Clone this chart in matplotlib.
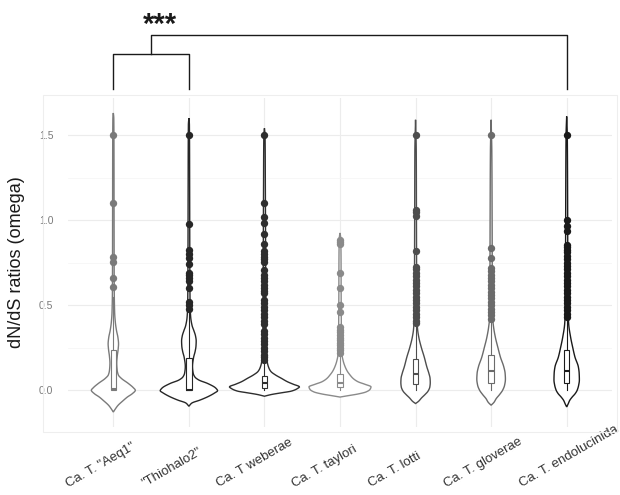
import numpy as np
import matplotlib
matplotlib.use("Agg")
import matplotlib.pyplot as plt
from matplotlib.patches import Rectangle
from matplotlib.transforms import offset_copy

plt.rcParams['font.family'] = ['Liberation Sans', 'DejaVu Sans']

# ---------------- data ----------------
categories = ['Ca. T. "Aeq1"', '"Thiohalo2"', 'Ca. T weberae', 'Ca. T. taylori',
              'Ca. T. lotti', 'Ca. T. gloverae', 'Ca. T. endolucinida']
colors = ['#7a7a7a', '#262626', '#2e2e2e', '#8a8a8a', '#4d4d4d', '#6b6b6b', '#1a1a1a']

# violin density profiles: omega values and relative half-widths (density)
aeq1_y = [-0.128, -0.11, -0.09, -0.06, -0.04, -0.02, 0.0, 0.015, 0.04, 0.07, 0.09, 0.12, 0.16, 0.2, 0.24, 0.273, 0.31, 0.35, 0.4, 0.46, 0.6, 1.0, 1.4, 1.6, 1.63]
aeq1_w = [0.0, 2.0, 4.5, 10.0, 14.0, 19.0, 22.0, 20.0, 15.0, 8.0, 5.0, 3.8, 3.4, 3.9, 4.8, 5.2, 4.6, 3.2, 2.0, 1.3, 0.9, 0.75, 0.65, 0.45, 0.0]
thio_y = [-0.094, -0.075, -0.058, -0.035, -0.015, -0.003, 0.012, 0.04, 0.06, 0.078, 0.1, 0.14, 0.19, 0.23, 0.26, 0.29, 0.32, 0.35, 0.38, 0.43, 0.5, 0.8, 1.2, 1.56, 1.60]
thio_w = [0.0, 3.0, 11.0, 20.0, 26.0, 28.7, 27.0, 18.7, 10.0, 6.0, 4.3, 3.6, 4.6, 6.3, 7.1, 7.3, 6.6, 5.0, 3.2, 1.8, 1.2, 0.9, 0.75, 0.5, 0.0]
web_y = [-0.035, -0.025, -0.015, -0.005, 0.01, 0.02, 0.035, 0.05, 0.07, 0.09, 0.11, 0.13, 0.16, 0.2, 0.3, 0.5, 0.9, 1.2, 1.5, 1.54]
web_w = [0.0, 7.0, 17.0, 27.0, 33.0, 35.0, 29.0, 23.0, 17.0, 11.0, 6.5, 4.5, 3.0, 2.2, 1.6, 1.3, 1.1, 0.9, 0.6, 0.0]
tay_y = [-0.04, -0.032, -0.022, -0.01, 0.005, 0.02, 0.035, 0.05, 0.07, 0.09, 0.11, 0.14, 0.17, 0.21, 0.3, 0.5, 0.8, 0.9, 0.925]
tay_w = [0.0, 8.0, 18.0, 26.0, 30.0, 31.0, 25.0, 18.0, 13.0, 10.0, 7.5, 5.0, 3.3, 2.0, 1.5, 1.2, 1.0, 0.6, 0.0]
lot_y = [-0.078, -0.065, -0.045, -0.025, -0.005, 0.02, 0.045, 0.07, 0.1, 0.137, 0.195, 0.253, 0.31, 0.36, 0.42, 0.5, 1.0, 1.4, 1.59]
lot_w = [0.0, 3.0, 6.0, 9.5, 12.5, 14.3, 14.7, 14.5, 13.3, 11.3, 8.7, 5.7, 3.3, 2.0, 1.4, 1.2, 0.9, 0.7, 0.0]
glo_y = [-0.088, -0.07, -0.05, -0.025, 0.0, 0.03, 0.065, 0.1, 0.137, 0.195, 0.253, 0.31, 0.37, 0.43, 0.6, 1.0, 1.4, 1.59]
glo_w = [0.0, 3.0, 5.0, 8.5, 11.5, 13.5, 14.3, 14.0, 12.7, 9.3, 6.7, 4.3, 2.5, 1.5, 1.2, 1.0, 0.7, 0.0]
end_y = [-0.098, -0.08, -0.06, -0.04, -0.02, 0.0, 0.03, 0.06, 0.1, 0.137, 0.195, 0.253, 0.31, 0.39, 0.48, 0.8, 1.2, 1.5, 1.61]
end_w = [0.0, 1.5, 3.0, 5.5, 8.5, 10.5, 12.0, 12.7, 12.5, 11.7, 8.3, 6.0, 4.0, 2.0, 1.3, 1.1, 0.9, 0.6, 0.0]

# box statistics
q1 = [0.0, 0.0, 0.012, 0.02, 0.035, 0.043, 0.04]
median = [0.005, 0.003, 0.043, 0.043, 0.094, 0.112, 0.114]
q3 = [0.235, 0.19, 0.082, 0.098, 0.186, 0.206, 0.235]
whisk_lo = [0.0, 0.0, 0.0, 0.0, 0.0, 0.0, 0.0]
whisk_hi = [0.55, 0.46, 0.18, 0.21, 0.39, 0.41, 0.43]

# outliers
out_aeq1 = [1.5, 1.1, 0.785, 0.755, 0.66, 0.605]
out_thio = [1.5, 0.98, 0.825, 0.80, 0.78, 0.745, 0.69, 0.675, 0.66, 0.645, 0.60, 0.52, 0.50, 0.48]
out_web = [1.5, 1.10, 1.02, 0.985, 0.92, 0.86, 0.82, 0.80, 0.785, 0.77, 0.755, 0.705, 0.68, 0.66,
           0.64, 0.62, 0.60, 0.585, 0.57, 0.53, 0.51, 0.49, 0.47, 0.45, 0.43, 0.41, 0.39, 0.35,
           0.33, 0.31, 0.29, 0.27, 0.25, 0.23, 0.21, 0.195, 0.18]
out_tay = [0.886, 0.873, 0.86, 0.69, 0.60, 0.50, 0.46, 0.37, 0.355, 0.34, 0.325, 0.31, 0.295,
           0.28, 0.265, 0.25, 0.235, 0.22]
out_lot = [1.5, 1.06, 1.045, 1.025, 0.82, 0.725, 0.71, 0.69, 0.67, 0.65, 0.63, 0.61, 0.59, 0.57,
           0.55, 0.53, 0.51, 0.49, 0.47, 0.45, 0.43, 0.41, 0.395]
out_glo = [1.5, 0.835, 0.78, 0.72, 0.70, 0.68, 0.66, 0.64, 0.62, 0.60, 0.58, 0.56, 0.54, 0.52,
           0.50, 0.48, 0.46, 0.44, 0.42]
out_end = [1.5, 1.0, 0.965, 0.935, 0.855, 0.84, 0.825, 0.81, 0.79, 0.77, 0.75, 0.73, 0.71, 0.69,
           0.67, 0.65, 0.63, 0.61, 0.59, 0.57, 0.55, 0.53, 0.51, 0.49, 0.47, 0.45, 0.43]

yticks = [0.0, 0.5, 1.0, 1.5]
ytick_labels = ['0.0', '0.5', '1.0', '1.5']
signif_label = '***'

dens_y = [aeq1_y, thio_y, web_y, tay_y, lot_y, glo_y, end_y]
dens_w = [aeq1_w, thio_w, web_w, tay_w, lot_w, glo_w, end_w]
outliers = [out_aeq1, out_thio, out_web, out_tay, out_lot, out_glo, out_end]


def pchip(x, y, xn):
    x = np.asarray(x, float); y = np.asarray(y, float)
    h = np.diff(x); d = np.diff(y) / h
    n = len(x); m = np.zeros(n)
    for k in range(1, n - 1):
        if d[k - 1] * d[k] > 0:
            w1 = 2 * h[k] + h[k - 1]; w2 = h[k] + 2 * h[k - 1]
            m[k] = (w1 + w2) / (w1 / d[k - 1] + w2 / d[k])
    m[0] = d[0]; m[-1] = d[-1]
    idx = np.clip(np.searchsorted(x, xn) - 1, 0, n - 2)
    t = (xn - x[idx]) / h[idx]
    h00 = 2 * t**3 - 3 * t**2 + 1; h10 = t**3 - 2 * t**2 + t
    h01 = -2 * t**3 + 3 * t**2; h11 = t**3 - t**2
    return h00 * y[idx] + h10 * h[idx] * m[idx] + h01 * y[idx + 1] + h11 * h[idx] * m[idx + 1]


# ---------------- figure ----------------
W, H = 620, 495
fig = plt.figure(figsize=(W / 100, H / 100), dpi=100)
ax = fig.add_axes([68 / W, (H - 427) / H, 544 / W, 329 / H])
ax.set_xlim(0.4, 7.6)
ax.set_ylim(-0.216, 1.718)

PX = 1 / 75.56      # x-units per pixel of density half-width
box_w = 0.07

for i, cat in enumerate(categories):
    xc = i + 1
    col = colors[i]
    yy = np.linspace(dens_y[i][0], dens_y[i][-1], 500)
    ww = np.clip(pchip(dens_y[i], dens_w[i], yy), 0, None) * PX
    xs = np.r_[xc - ww, (xc + ww)[::-1]]
    ys = np.r_[yy, yy[::-1]]
    ax.fill(xs, ys, facecolor='white', edgecolor=col, lw=1.0, zorder=2)
    ax.plot([xc, xc], [whisk_lo[i], q1[i]], color=col, lw=0.8, zorder=3)
    ax.plot([xc, xc], [q3[i], whisk_hi[i]], color=col, lw=0.8, zorder=3)
    ax.add_patch(Rectangle((xc - box_w / 2, q1[i]), box_w, q3[i] - q1[i],
                           facecolor='white', edgecolor=col, lw=0.8, zorder=4))
    ax.plot([xc - box_w / 2, xc + box_w / 2], [median[i], median[i]], color=col, lw=1.5,
            zorder=5, solid_capstyle='butt')
    ax.scatter(np.full(len(outliers[i]), xc), outliers[i], s=28, color=col,
               linewidths=0, zorder=6)

# axes styling
for s in ax.spines.values():
    s.set_visible(False)
ax.set_xticks(range(1, len(categories) + 1))
ax.set_xticklabels([])
ax.set_yticks(yticks)
ax.set_yticklabels(ytick_labels)
ax.set_yticks([0.25, 0.75, 1.25], minor=True)
ax.tick_params(axis='both', which='both', length=0)
ax.tick_params(axis='y', pad=10.5, labelsize=7.5, labelcolor='#7a7a7a')
ax.grid(True, which='major', color='#ececec', lw=0.8, zorder=0)
ax.grid(True, which='minor', axis='y', color='#f4f4f4', lw=0.5, zorder=0)
ax.set_axisbelow(True)

# x labels (rotated)
tr = offset_copy(ax.get_xaxis_transform(), fig=fig, x=-45, y=-(487 - 427), units='dots')
for i, cat in enumerate(categories):
    ax.text(i + 1, 0, cat, transform=tr, rotation=30, rotation_mode='anchor',
            ha='left', va='baseline', fontsize=9.5, color='#333333', clip_on=False)

# y label
fig.text(17 / W, 1 - 262 / H, 'dN/dS ratios (omega)', rotation=90, ha='center',
         va='center', fontsize=13, color='#1a1a1a')

# faint outer frame
fig.patches.append(Rectangle((43 / W, (H - 432) / H), 574 / W, 337 / H,
                             transform=fig.transFigure, facecolor='none',
                             edgecolor='#eeeeee', lw=0.8))

# significance bracket
ax.plot([1, 1, 2, 2], [1.772, 1.977, 1.977, 1.772], color='#1a1a1a', lw=1.0, clip_on=False)
ax.plot([1.5, 1.5, 7, 7], [1.977, 2.088, 2.088, 1.772], color='#1a1a1a', lw=1.0, clip_on=False)
ax.text(1.61, 2.10, signif_label, ha='center', va='baseline', fontsize=21,
        fontweight='bold', color='#1a1a1a', clip_on=False)

fig.savefig('out.png', dpi=100)
